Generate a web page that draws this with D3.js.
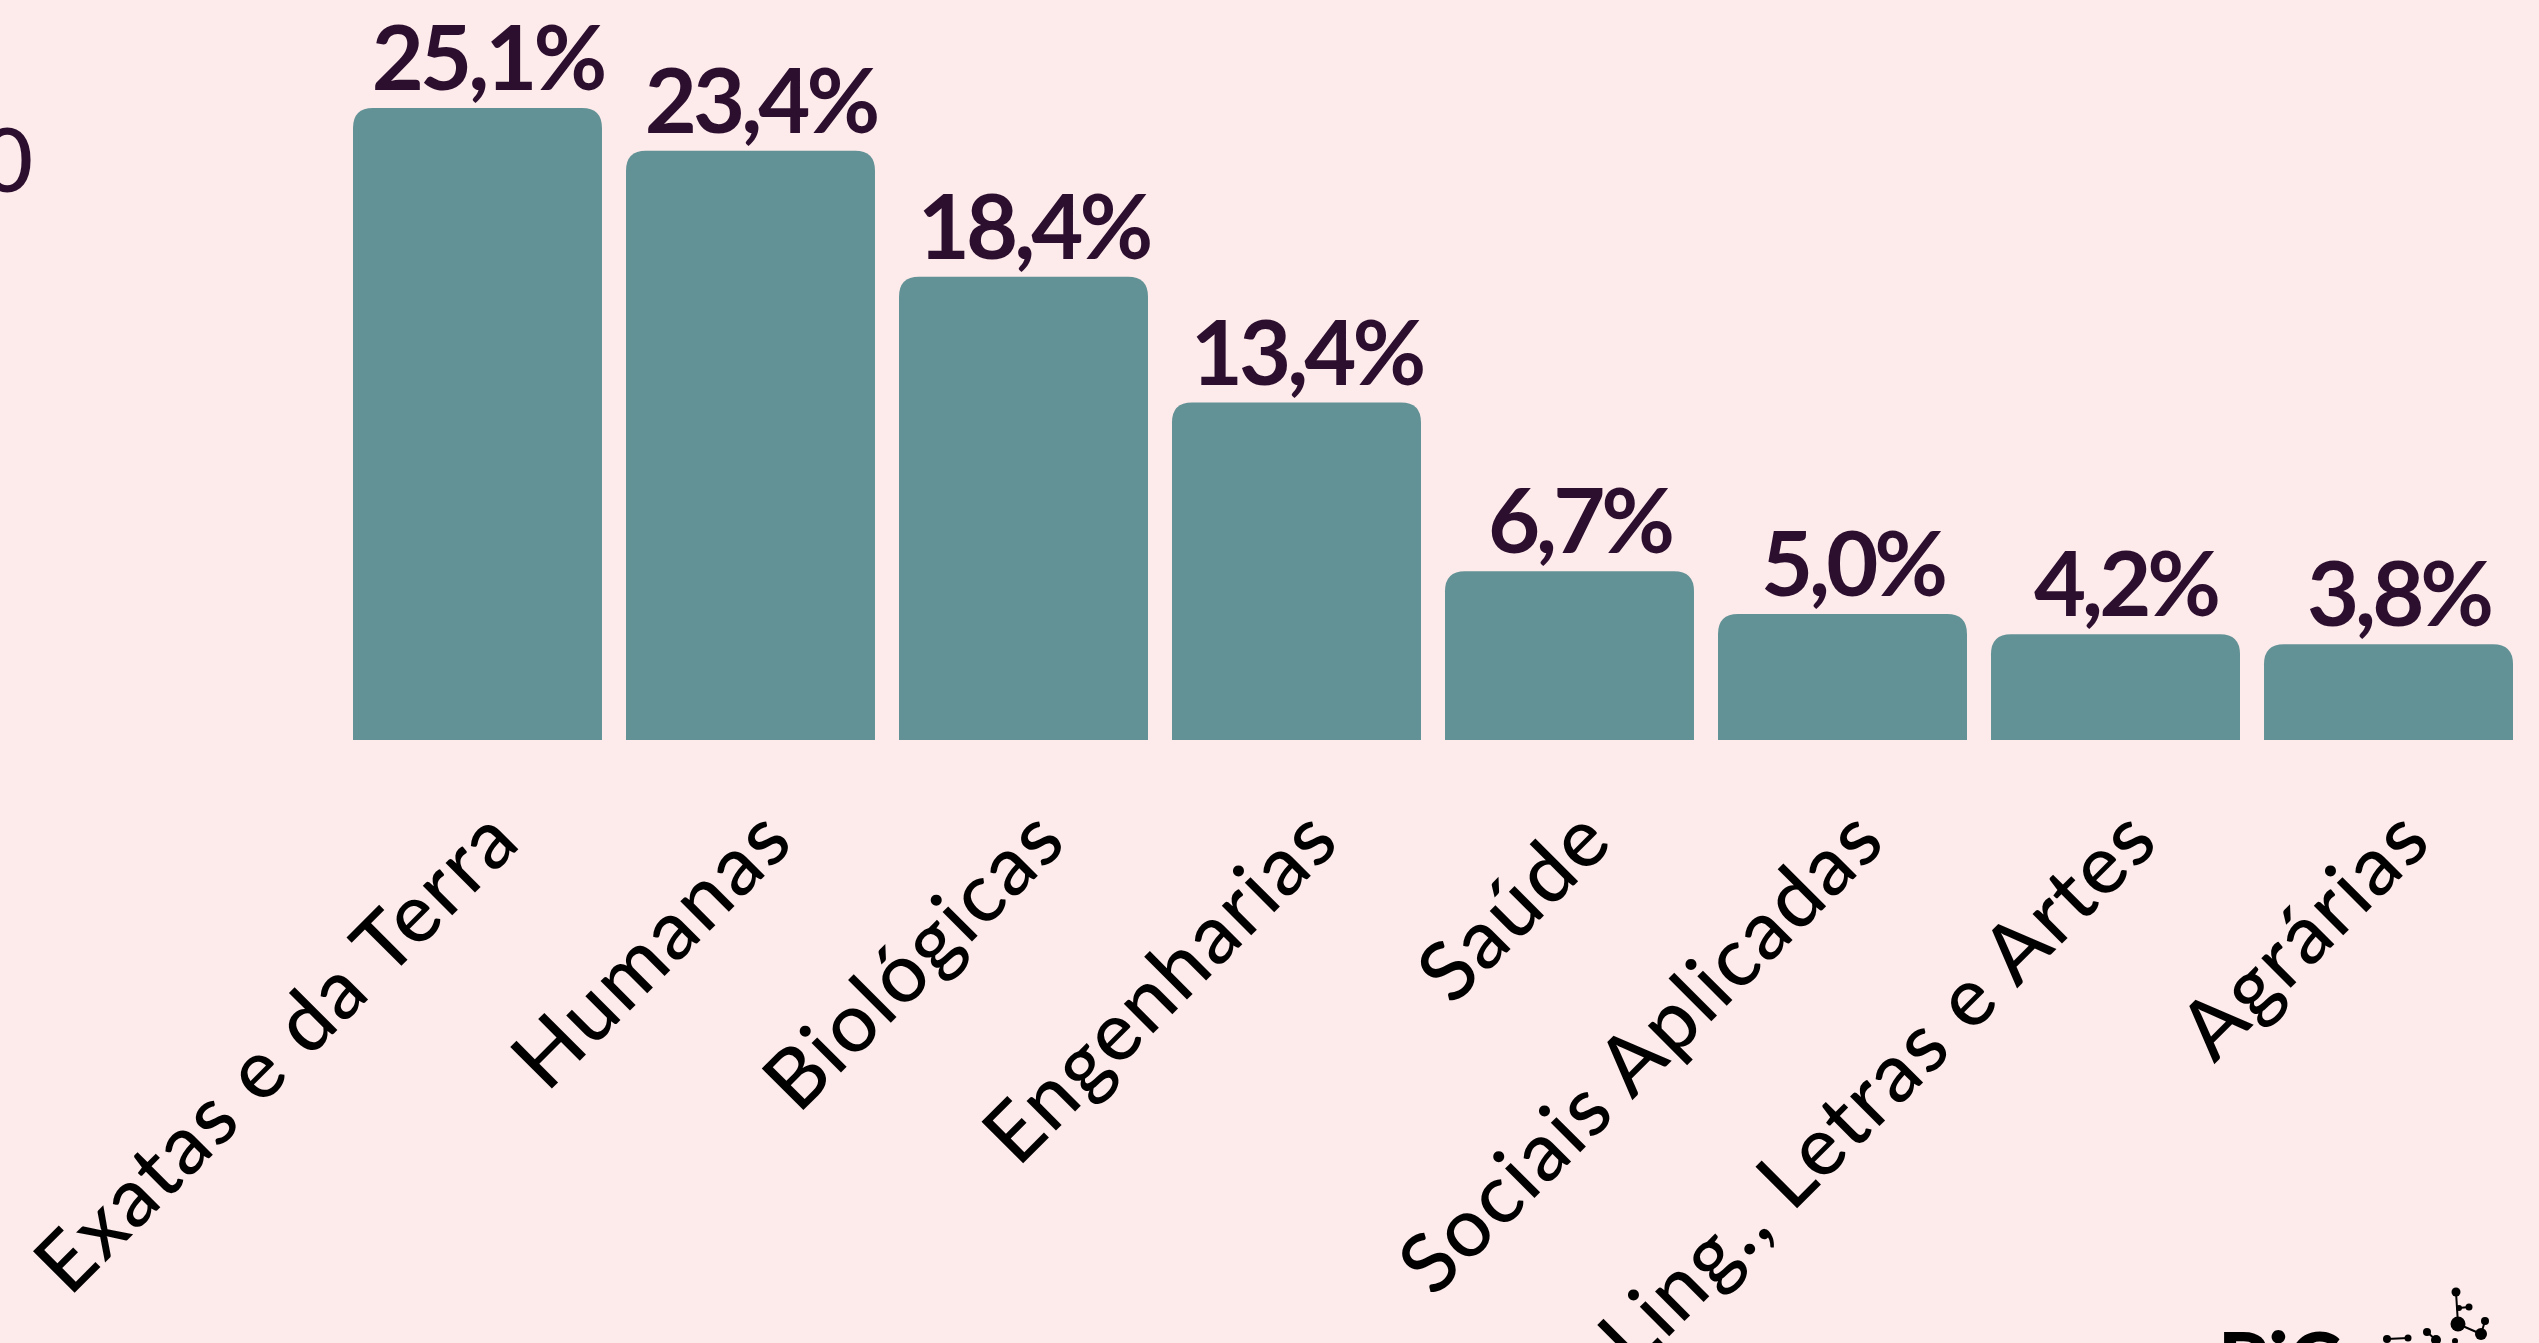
<!DOCTYPE html>
<html>
<head>
<meta charset="utf-8">
<script src="https://cdn.jsdelivr.net/npm/d3@7"></script>
<style>
  html, body { margin: 0; padding: 0; background: #fdeaea; overflow: hidden; }
  svg { display: block; }
</style>
</head>
<body>
<svg id="chart" width="2539" height="1343"></svg>
<script>
// ---- data ----
const categories = ["Exatas e da Terra", "Humanas", "Biológicas", "Engenharias", "Saúde", "Sociais Aplicadas", "Ling., Letras e Artes", "Agrárias"];
const values = [25.1, 23.4, 18.4, 13.4, 6.7, 5.0, 4.2, 3.8];
const valueLabels = ["25,1%", "23,4%", "18,4%", "13,4%", "6,7%", "5,0%", "4,2%", "3,8%"];

// ---- layout ----
const W = 2539, H = 1343;
const left = 353, right = 2513, baseline = 740;
const svg = d3.select("#chart");
svg.append("rect").attr("width", W).attr("height", H).attr("fill", "#fdeaea");

const x = d3.scaleBand().domain(categories).range([left, right]).paddingInner(0.088).paddingOuter(0);
const y = d3.scaleLinear().domain([0, 25.1]).range([baseline, 108]);

const data = categories.map((c, i) => ({ c, v: values[i], label: valueLabels[i] }));

function topRounded(x0, y0, w, h, r) {
  r = Math.min(r, h, w / 2);
  return `M${x0},${y0 + h}V${y0 + r}Q${x0},${y0} ${x0 + r},${y0}H${x0 + w - r}Q${x0 + w},${y0} ${x0 + w},${y0 + r}V${y0 + h}Z`;
}

svg.append("g").selectAll("path").data(data).join("path")
  .attr("d", d => topRounded(x(d.c), y(d.v), x.bandwidth(), baseline - y(d.v), 20))
  .attr("fill", "#629296");

// value labels
svg.append("g").selectAll("text").data(data).join("text")
  .attr("x", d => x(d.c) + x.bandwidth() / 2 + 10)
  .attr("y", d => y(d.v) - 18)
  .attr("text-anchor", "middle")
  .attr("font-family", "Lato, sans-serif")
  .attr("font-weight", 700)
  .attr("font-size", 90)
  .attr("letter-spacing", -4)
  .attr("fill", "#2c0e2e")
  .text(d => d.label);

// category labels via axis
const axis = d3.axisBottom(x).tickSize(0).tickPadding(0);
const gx = svg.append("g").attr("transform", `translate(0,${baseline})`).call(axis);
gx.select(".domain").remove();
gx.selectAll(".tick text")
  .attr("transform", `translate(46,104) rotate(-45)`)
  .attr("text-anchor", "end")
  .attr("dy", 0)
  .attr("y", 0)
  .attr("font-family", "Lato, sans-serif")
  .attr("font-weight", 500)
  .attr("font-size", 82)
  .attr("letter-spacing", 2)
  .attr("fill", "#000");

// cut-off text at top-left
svg.append("text")
  .attr("x", 33).attr("y", 192)
  .attr("text-anchor", "end")
  .attr("font-family", "Lato, sans-serif")
  .attr("font-weight", 500)
  .attr("font-size", 89)
  .attr("fill", "#2c0e2e")
  .text("0");

// logo (bottom-right, cut off)
const logo = svg.append("g").attr("fill", "#000").attr("stroke", "#000");
logo.append("text")
  .attr("x", 2218).attr("y", 1390)
  .attr("font-family", "Lato, sans-serif")
  .attr("font-weight", 900)
  .attr("font-size", 80)
  .attr("stroke", "none")
  .text("PiC");
const links = [[2456,1292,2458,1324],[2459,1308,2469,1307],[2458,1324,2481,1334],[2485,1321,2481,1334],[2427,1332,2436,1340],[2387,1339,2408,1338]];
logo.selectAll("line").data(links).join("line")
  .attr("x1", d => d[0]).attr("y1", d => d[1]).attr("x2", d => d[2]).attr("y2", d => d[3])
  .attr("stroke-width", 2);
const nodes = [[2456,1292,4.5],[2469,1307,3.5],[2459,1308,3],[2458,1324,7.5],[2485,1321,4],[2481,1334,6],[2427,1332,4],[2408,1338,3.5],[2387,1339,4],[2436,1340,5],[2455,1341,3]];
logo.selectAll("circle").data(nodes).join("circle")
  .attr("cx", d => d[0]).attr("cy", d => d[1]).attr("r", d => d[2]).attr("stroke", "none");
</script>
</body>
</html>
